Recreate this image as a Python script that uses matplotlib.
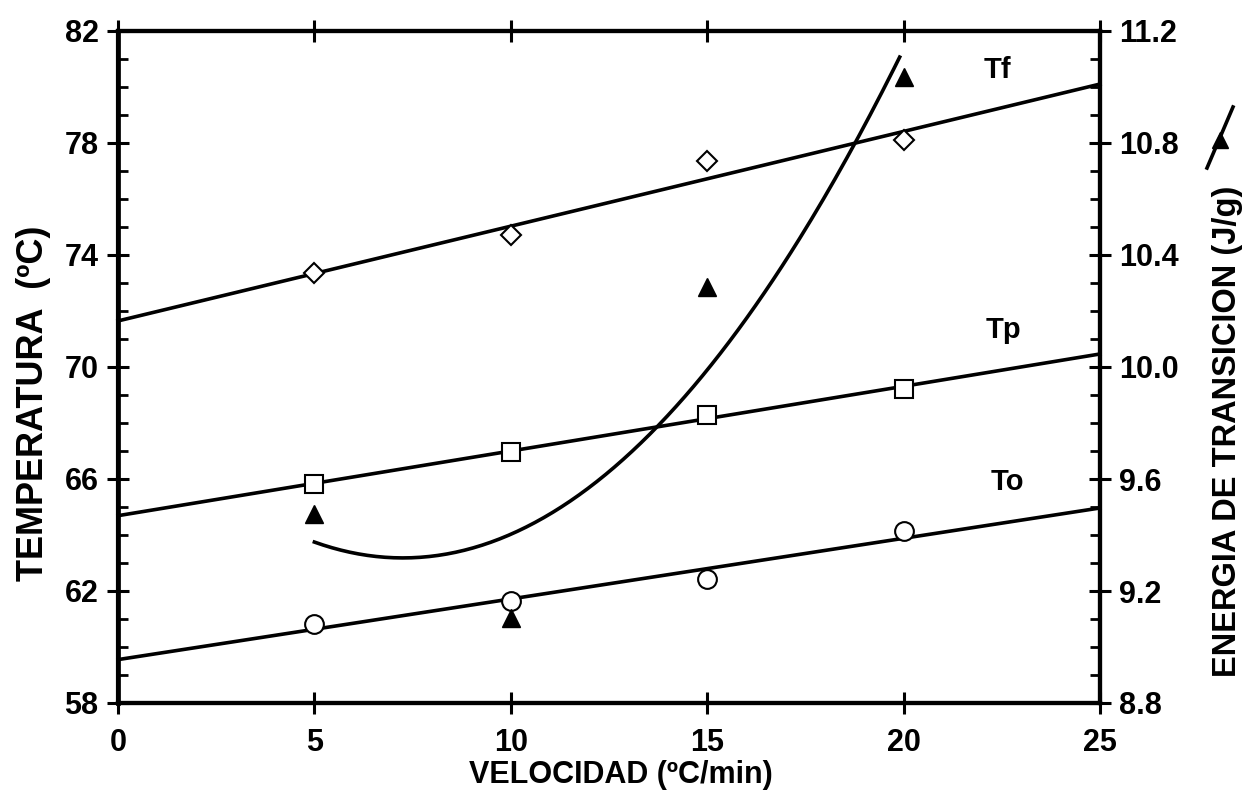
import numpy as np
import matplotlib
matplotlib.use("Agg")
import matplotlib.pyplot as plt
from matplotlib.lines import Line2D
from matplotlib.ticker import MultipleLocator, FormatStrFormatter

# ---- data ----
velocidad = [5, 10, 15, 20]
tf_vals = [73.35, 74.7, 77.34, 78.11]     # diamonds
tp_vals = [65.81, 66.98, 68.3, 69.22]     # squares
to_vals = [60.81, 61.63, 62.44, 64.15]    # circles
energia = [9.474, 9.105, 10.287, 11.036]  # triangles (right axis)

x_ticks = [0, 5, 10, 15, 20, 25]
left_ticks = [58, 62, 66, 70, 74, 78, 82]
right_ticks = [8.8, 9.2, 9.6, 10.0, 10.4, 10.8, 11.2]

plt.rcParams['font.family'] = ['Liberation Sans', 'DejaVu Sans']
plt.rcParams['font.weight'] = 'bold'

fig = plt.figure(figsize=(12.44, 8.06), dpi=100)
ax = fig.add_axes([118/1244, 1-703/806, (1100-118)/1244, (703-31)/806])
ax2 = ax.twinx()

lw = 2.6
xs_line = np.array([0, 25])
for vals in (tf_vals, tp_vals, to_vals):
    c = np.polyfit(velocidad, vals, 1)
    ax.plot(xs_line, np.polyval(c, xs_line), color='black', lw=lw, zorder=2, clip_on=False)

ax.plot(velocidad, tf_vals, linestyle='none', marker='D', ms=10.5, mfc='white', mec='black', mew=1.5, zorder=3)
ax.plot(velocidad, tp_vals, linestyle='none', marker='s', ms=13, mfc='white', mec='black', mew=1.5, zorder=3)
ax.plot(velocidad, to_vals, linestyle='none', marker='o', ms=13.5, mfc='white', mec='black', mew=1.5, zorder=3)

# quadratic trend of the transition energy
cq = np.polyfit(velocidad, energia, 2)
xc = np.linspace(5, 19.9, 200)
ax2.plot(xc, np.polyval(cq, xc), color='black', lw=lw, zorder=2)
ax2.plot(velocidad, energia, linestyle='none', marker='^', ms=13, color='black', zorder=3)

ax.set_xlim(0, 25)
ax.set_ylim(58, 82)
ax2.set_ylim(8.8, 11.2)

ax.set_xticks(x_ticks)
ax.set_yticks(left_ticks)
ax.yaxis.set_minor_locator(MultipleLocator(1))
ax2.set_yticks(right_ticks)
ax2.yaxis.set_minor_locator(MultipleLocator(0.1))
ax2.yaxis.set_major_formatter(FormatStrFormatter('%.1f'))

fs_tick = 22
ax.tick_params(axis='x', which='major', direction='inout', length=16, width=2.2, top=True,
               labelsize=fs_tick, pad=10)
ax.tick_params(axis='y', which='major', direction='inout', length=16, width=2.2, labelsize=fs_tick, pad=6)
ax.tick_params(axis='y', which='minor', direction='in', length=7, width=2)
ax2.tick_params(axis='y', which='major', direction='inout', length=16, width=2.2, labelsize=fs_tick, pad=6)
ax2.tick_params(axis='y', which='minor', direction='in', length=7, width=2)

for a in (ax, ax2):
    for s in a.spines.values():
        s.set_linewidth(3.0)
ax.spines['left'].set_linewidth(3.4)

for lab in ax.get_xticklabels() + ax.get_yticklabels() + ax2.get_yticklabels():
    lab.set_fontweight('bold')

# series labels
ax.text(22.4, 80.6, 'Tf', fontsize=21, fontweight='bold', ha='center', va='center')
ax.text(22.55, 71.32, 'Tp', fontsize=21, fontweight='bold', ha='center', va='center')
ax.text(22.65, 65.9, 'To', fontsize=21, fontweight='bold', ha='center', va='center')

# axis titles
fig.text(0.499, 0.038, 'VELOCIDAD (ºC/min)', fontsize=22, fontweight='bold', ha='center', va='center')
fig.text(0.027, 0.50, 'TEMPERATURA  (ºC)', fontsize=26, fontweight='bold', ha='center', va='center', rotation=90)
fig.text(0.987, 0.465, 'ENERGIA DE TRANSICION (J/g)', fontsize=23.5, fontweight='bold', ha='center', va='center', rotation=90)

# small key symbol for the energy series
fig.add_artist(Line2D([1207/1244, 1233/1244], [1-168/806, 1-107/806], color='black', lw=2.6,
                      transform=fig.transFigure))
fig.add_artist(Line2D([1220/1244], [1-140/806], marker='^', ms=12, color='black', linestyle='none',
                      transform=fig.transFigure))

fig.savefig('out.png', dpi=100)
